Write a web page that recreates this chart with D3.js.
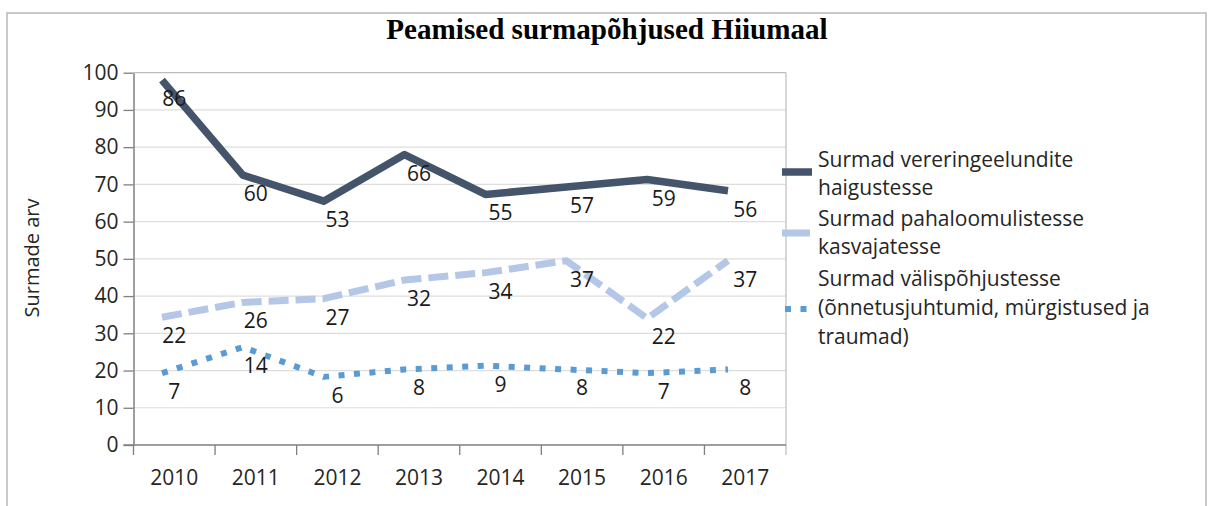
<!DOCTYPE html>
<html lang="et">
    <head>
        <meta charset="utf-8">
        <title>Peamised surmapõhjused Hiiumaal</title>
        <script type="text/javascript" src="https://cdn.jsdelivr.net/npm/d3@7"></script>
        <style type="text/css">
            body { margin: 0; background: #fff; }
            svg { font-family: "Open Sans", sans-serif; }
        </style>
    </head>

    <body>
        <script type="text/javascript">
            // Data
            var years = ["2010", "2011", "2012", "2013", "2014", "2015", "2016", "2017"];

            // values where the lines are drawn
            var vereringe = [98, 72.5, 65.5, 78, 67.3, 69.3, 71.3, 68.3];
            var kasvajad = [34.3, 38.3, 39.3, 44.3, 46.3, 49.5, 34, 49.5];
            var valis = [19.3, 26.3, 18.3, 20.3, 21.3, 20.3, 19.3, 20.3];

            // data label texts as printed on the chart
            var vereringeLabels = [86, 60, 53, 66, 55, 57, 59, 56];
            var kasvajadLabels = [22, 26, 27, 32, 34, 37, 22, 37];
            var valisLabels = [7, 14, 6, 8, 9, 8, 7, 8];

            var yTicks = [0, 10, 20, 30, 40, 50, 60, 70, 80, 90, 100];

            var seriesNames = [
                ["Surmad vereringeelundite", "haigustesse"],
                ["Surmad pahaloomulistesse", "kasvajatesse"],
                ["Surmad välispõhjustesse", "(õnnetusjuhtumid, mürgistused ja", "traumad)"]
            ];

            var w = 1208;
            var h = 506;
            var x0 = 133.5, x1 = 786;
            var yTop = 72.7, yBottom = 445;

            var svg = d3.select("body")
                        .append("svg")
                        .attr("width", w)
                        .attr("height", h);

            // outer frame
            svg.append("rect")
                .attr("x", 7)
                .attr("y", 13)
                .attr("width", 1199)
                .attr("height", 520)
                .attr("fill", "none")
                .attr("stroke", "#b8b8b8")
                .attr("stroke-width", 1.5);

            var xScale = d3.scaleBand()
                            .domain(years)
                            .range([x0, x1]);

            // the line points sit a bit left of the category centres
            var xPoint = d3.scalePoint()
                            .domain(years)
                            .range([162, 728]);

            var yScale = d3.scaleLinear()
                            .domain([0, 100])
                            .range([yBottom, yTop]);

            // gridlines
            svg.selectAll("line.grid")
                .data(yTicks.slice(1))
                .enter()
                .append("line")
                .attr("class", "grid")
                .attr("x1", x0)
                .attr("x2", x1)
                .attr("y1", function(d) { return yScale(d); })
                .attr("y2", function(d) { return yScale(d); })
                .attr("stroke", function(d) { return d === 100 ? "#bdbdbd" : "#dedede"; })
                .attr("stroke-width", 1.2);

            // right border of the plot area
            svg.append("line")
                .attr("x1", x1).attr("x2", x1)
                .attr("y1", yTop).attr("y2", yBottom + 10)
                .attr("stroke", "#bdbdbd")
                .attr("stroke-width", 1.2);

            // y axis
            var yAxis = d3.axisLeft(yScale)
                            .tickValues(yTicks)
                            .tickSize(10)
                            .tickPadding(5)
                            .tickSizeOuter(0);

            var gy = svg.append("g")
                        .attr("transform", "translate(" + x0 + ",0)")
                        .call(yAxis);
            gy.select(".domain").attr("stroke", "#7f7f7f").attr("stroke-width", 1.5);
            gy.selectAll(".tick line").attr("stroke", "#7f7f7f").attr("stroke-width", 1.3);
            gy.selectAll(".tick text")
                .attr("font-family", "Open Sans, sans-serif")
                .attr("font-size", "21px")
                .attr("fill", "#262626");

            // x axis: ticks between categories
            var gx = svg.append("g")
                        .attr("transform", "translate(0," + yBottom + ")");
            gx.append("line")
                .attr("x1", x0 - 10).attr("x2", x1)
                .attr("y1", 0).attr("y2", 0)
                .attr("stroke", "#7f7f7f")
                .attr("stroke-width", 1.5);
            gx.selectAll("line.xtick")
                .data(years)
                .enter()
                .append("line")
                .attr("class", "xtick")
                .attr("x1", function(d) { return xScale(d); })
                .attr("x2", function(d) { return xScale(d); })
                .attr("y1", 0)
                .attr("y2", 10)
                .attr("stroke", "#7f7f7f")
                .attr("stroke-width", 1.3);
            gx.selectAll("text")
                .data(years)
                .enter()
                .append("text")
                .text(function(d) { return d; })
                .attr("x", function(d) { return xScale(d) + xScale.bandwidth() / 2; })
                .attr("y", 40)
                .attr("text-anchor", "middle")
                .attr("font-size", "21px")
                .attr("fill", "#262626");

            // y axis title
            svg.append("text")
                .text("Surmade arv")
                .attr("transform", "translate(39,258) rotate(-90)")
                .attr("text-anchor", "middle")
                .attr("font-size", "20px")
                .attr("fill", "#262626");

            // title
            var title = svg.append("text")
                .text("Peamised surmapõhjused Hiiumaal")
                .attr("x", 607)
                .attr("y", 39)
                .attr("text-anchor", "middle")
                .attr("font-family", "Liberation Serif, Times New Roman, serif")
                .attr("font-weight", "bold")
                .attr("font-size", "24px")
                .attr("fill", "#000");
            var tw = title.node().getComputedTextLength();
            title.attr("font-size", (24 * 441 / tw).toFixed(1) + "px");

            var series = [
                { values: vereringe, labels: vereringeLabels, color: "#44546a", width: 7.5, dash: null },
                { values: kasvajad, labels: kasvajadLabels, color: "#b4c7e7", width: 7, dash: "20,7" },
                { values: valis, labels: valisLabels, color: "#5b9bd5", width: 6, dash: "6,9.5" }
            ];

            var line = d3.line()
                        .x(function(d, i) { return xPoint(years[i]); })
                        .y(function(d) { return yScale(d); });

            series.forEach(function(s) {
                var p = svg.append("path")
                    .datum(s.values)
                    .attr("d", line)
                    .attr("fill", "none")
                    .attr("stroke", s.color)
                    .attr("stroke-width", s.width)
                    .attr("stroke-linejoin", "round");
                if (s.dash) p.attr("stroke-dasharray", s.dash);
            });

            // data labels, below the points, centred on the category
            series.forEach(function(s) {
                svg.append("g")
                    .selectAll("text")
                    .data(s.labels)
                    .enter()
                    .append("text")
                    .text(function(d) { return d; })
                    .attr("x", function(d, i) { return xScale(years[i]) + xScale.bandwidth() / 2; })
                    .attr("y", function(d, i) { return yScale(s.values[i]) + 26; })
                    .attr("text-anchor", "middle")
                    .attr("font-size", "21px")
                    .attr("fill", "#1a1a1a");
            });

            // legend
            var legendY = [172, 233, 309];
            var legendBase = [[167, 195], [226, 254], [286, 315, 344]];

            svg.append("line")
                .attr("x1", 782).attr("x2", 812)
                .attr("y1", legendY[0]).attr("y2", legendY[0])
                .attr("stroke", series[0].color)
                .attr("stroke-width", 7.5);
            svg.append("line")
                .attr("x1", 782).attr("x2", 810)
                .attr("y1", legendY[1]).attr("y2", legendY[1])
                .attr("stroke", series[1].color)
                .attr("stroke-width", 7);
            svg.append("line")
                .attr("x1", 785).attr("x2", 812)
                .attr("y1", legendY[2]).attr("y2", legendY[2])
                .attr("stroke", series[2].color)
                .attr("stroke-width", 6)
                .attr("stroke-dasharray", "6,9.5");

            seriesNames.forEach(function(lines, k) {
                svg.append("g")
                    .selectAll("text")
                    .data(lines)
                    .enter()
                    .append("text")
                    .text(function(d) { return d; })
                    .attr("x", 818)
                    .attr("y", function(d, j) { return legendBase[k][j]; })
                    .attr("font-size", "21px")
                    .attr("fill", "#262626");
            });
        </script>
    </body>
</html>
